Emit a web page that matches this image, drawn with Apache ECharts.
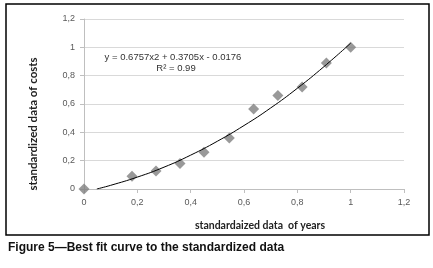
<!DOCTYPE html>
<html>
<head>
<meta charset="utf-8">
<script src="https://cdn.jsdelivr.net/npm/echarts@6/dist/echarts.min.js"></script>
<style>
  html, body { margin: 0; padding: 0; background: #fff; }
  #chart { width: 433px; height: 268px; }
</style>
</head>
<body>
<div id="chart"></div>
<script>
// standardized data
const years = [0, 0.18, 0.27, 0.36, 0.45, 0.545, 0.636, 0.727, 0.818, 0.909, 1];
const costs = [0, 0.09, 0.127, 0.18, 0.26, 0.36, 0.565, 0.66, 0.72, 0.89, 1];
// points along the drawn fit curve
const fitX = [0.048, 0.1, 0.2, 0.3, 0.4, 0.5, 0.6, 0.7, 0.8, 0.9, 1];
const fitY = [0, 0.026, 0.084, 0.154, 0.239, 0.337, 0.448, 0.572, 0.711, 0.864, 1.029];

const fmt = (v) => String(Math.round(v * 10) / 10).replace('.', ',');
const labelFont = { color: '#595959', fontSize: 9, fontFamily: 'Liberation Sans Narrow, Liberation Sans, sans-serif' };

const chart = echarts.init(document.getElementById('chart'));
chart.setOption({
  animation: false,
  grid: { left: 84, top: 19, right: 29, bottom: 79 },
  xAxis: {
    type: 'value', min: 0, max: 1.2, interval: 0.2,
    axisLine: { lineStyle: { color: '#bfbfbf' } },
    axisTick: { show: true, length: 4, lineStyle: { color: '#bfbfbf' } },
    axisLabel: Object.assign({ margin: 9, formatter: fmt }, labelFont),
    splitLine: { show: false }
  },
  yAxis: {
    type: 'value', min: 0, max: 1.2, interval: 0.2,
    axisLine: { show: true, lineStyle: { color: '#bfbfbf' } },
    axisTick: { show: true, length: 4, lineStyle: { color: '#bfbfbf' } },
    axisLabel: Object.assign({ margin: 9, formatter: fmt }, labelFont),
    splitLine: { lineStyle: { color: '#d9d9d9' } }
  },
  series: [
    {
      type: 'line',
      data: fitX.map((x, i) => [x, fitY[i]]),
      smooth: true, showSymbol: false,
      lineStyle: { color: '#000', width: 1 },
      z: 3
    },
    {
      type: 'scatter',
      data: years.map((x, i) => [x, costs[i]]),
      symbol: 'diamond', symbolSize: 11,
      itemStyle: { color: '#7f7f7f' },
      z: 2
    }
  ],
  graphic: [
    { type: 'rect', shape: { x: 6, y: 4, width: 423, height: 231 },
      style: { fill: 'none', stroke: '#000', lineWidth: 1.5 }, z: -1 },
    // axis titles, placed where the figure has them
    { type: 'text', x: 260, y: 226,
      style: { text: 'standardaized data  of years', fill: '#222', font: 'bold 10.5px Lato, sans-serif', align: 'center', verticalAlign: 'middle' } },
    { type: 'text', x: 33, y: 124, rotation: Math.PI / 2,
      style: { text: 'standardized data of costs', fill: '#222', font: 'bold 11.5px Lato, sans-serif', align: 'center', verticalAlign: 'middle' } },
    { type: 'text', x: 173, y: 57,
      style: { text: 'y = 0.6757x2 + 0.3705x - 0.0176', fill: '#333', font: '9.5px Liberation Sans Narrow, sans-serif', align: 'center', verticalAlign: 'middle' } },
    { type: 'text', x: 176, y: 68,
      style: { text: 'R² = 0.99', fill: '#333', font: '9.5px Liberation Sans Narrow, sans-serif', align: 'center', verticalAlign: 'middle' } },
    { type: 'text', x: 8, y: 248,
      style: { text: 'Figure 5\u2014Best fit curve to the standardized data', fill: '#111', font: 'bold 12px Liberation Sans, Arial, sans-serif', verticalAlign: 'middle' } }
  ]
});
</script>
</body>
</html>
